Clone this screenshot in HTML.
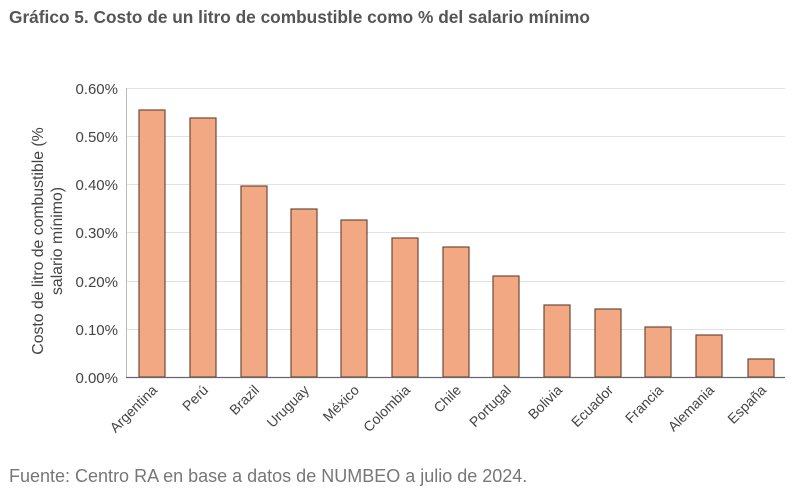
<!DOCTYPE html>
<html><head><meta charset="utf-8"><style>
body{margin:0;background:#fff;font-family:"Liberation Sans",sans-serif}
</style></head><body>
<svg width="800" height="496" xmlns="http://www.w3.org/2000/svg" font-family="Liberation Sans, sans-serif">
<rect width="800" height="496" fill="#fff"/>
<text x="9" y="23" font-size="17.3" font-weight="bold" fill="#555">Gráfico 5. Costo de un litro de combustible como % del salario mínimo</text>
<g stroke="#e2e2e2" stroke-width="1">
<line x1="126" x2="785" y1="88.5" y2="88.5"/><line x1="126" x2="785" y1="136.5" y2="136.5"/>
<line x1="126" x2="785" y1="184.5" y2="184.5"/><line x1="126" x2="785" y1="232.5" y2="232.5"/>
<line x1="126" x2="785" y1="281.5" y2="281.5"/><line x1="126" x2="785" y1="329.5" y2="329.5"/>
</g>
<line x1="126.5" x2="126.5" y1="88" y2="377" stroke="#bbb"/>
<g font-size="15" fill="#444" text-anchor="end">
<text x="118" y="94">0.60%</text><text x="118" y="142">0.50%</text><text x="118" y="190">0.40%</text>
<text x="118" y="238">0.30%</text><text x="118" y="287">0.20%</text><text x="118" y="335">0.10%</text>
<text x="118" y="383">0.00%</text>
</g>
<text transform="translate(43,241) rotate(-90)" font-size="15.8" fill="#444" text-anchor="middle">Costo de litro de combustible (%</text>
<text transform="translate(62,241) rotate(-90)" font-size="15.8" fill="#444" text-anchor="middle">salario mínimo)</text>
<g fill="#f2a983" stroke="#6e4a38" stroke-width="1.2">
<rect x="139" y="110" width="26" height="267"/>
<rect x="190" y="118" width="26" height="259"/>
<rect x="241" y="186" width="26" height="191"/>
<rect x="291" y="209" width="26" height="168"/>
<rect x="341" y="220" width="26" height="157"/>
<rect x="392" y="238" width="26" height="139"/>
<rect x="443" y="247" width="26" height="130"/>
<rect x="493" y="276" width="26" height="101"/>
<rect x="544" y="305" width="26" height="72"/>
<rect x="595" y="309" width="26" height="68"/>
<rect x="645" y="327" width="26" height="50"/>
<rect x="696" y="335" width="26" height="42"/>
<rect x="748" y="359" width="26" height="18"/>
</g>
<line x1="126" x2="785" y1="377.5" y2="377.5" stroke="#666" stroke-width="1.2"/>
<g font-size="14" fill="#444" text-anchor="end">
<text transform="translate(158,391) rotate(-45)">Argentina</text>
<text transform="translate(209,391) rotate(-45)">Perú</text>
<text transform="translate(260,391) rotate(-45)">Brazil</text>
<text transform="translate(310,391) rotate(-45)">Uruguay</text>
<text transform="translate(360,391) rotate(-45)">México</text>
<text transform="translate(411,391) rotate(-45)">Colombia</text>
<text transform="translate(462,391) rotate(-45)">Chile</text>
<text transform="translate(512,391) rotate(-45)">Portugal</text>
<text transform="translate(563,391) rotate(-45)">Bolivia</text>
<text transform="translate(614,391) rotate(-45)">Ecuador</text>
<text transform="translate(664,391) rotate(-45)">Francia</text>
<text transform="translate(715,391) rotate(-45)">Alemania</text>
<text transform="translate(767,391) rotate(-45)">España</text>
</g>
<text x="9" y="482" font-size="18" fill="#777">Fuente: Centro RA en base a datos de NUMBEO a julio de 2024.</text>
</svg>
</body></html>
